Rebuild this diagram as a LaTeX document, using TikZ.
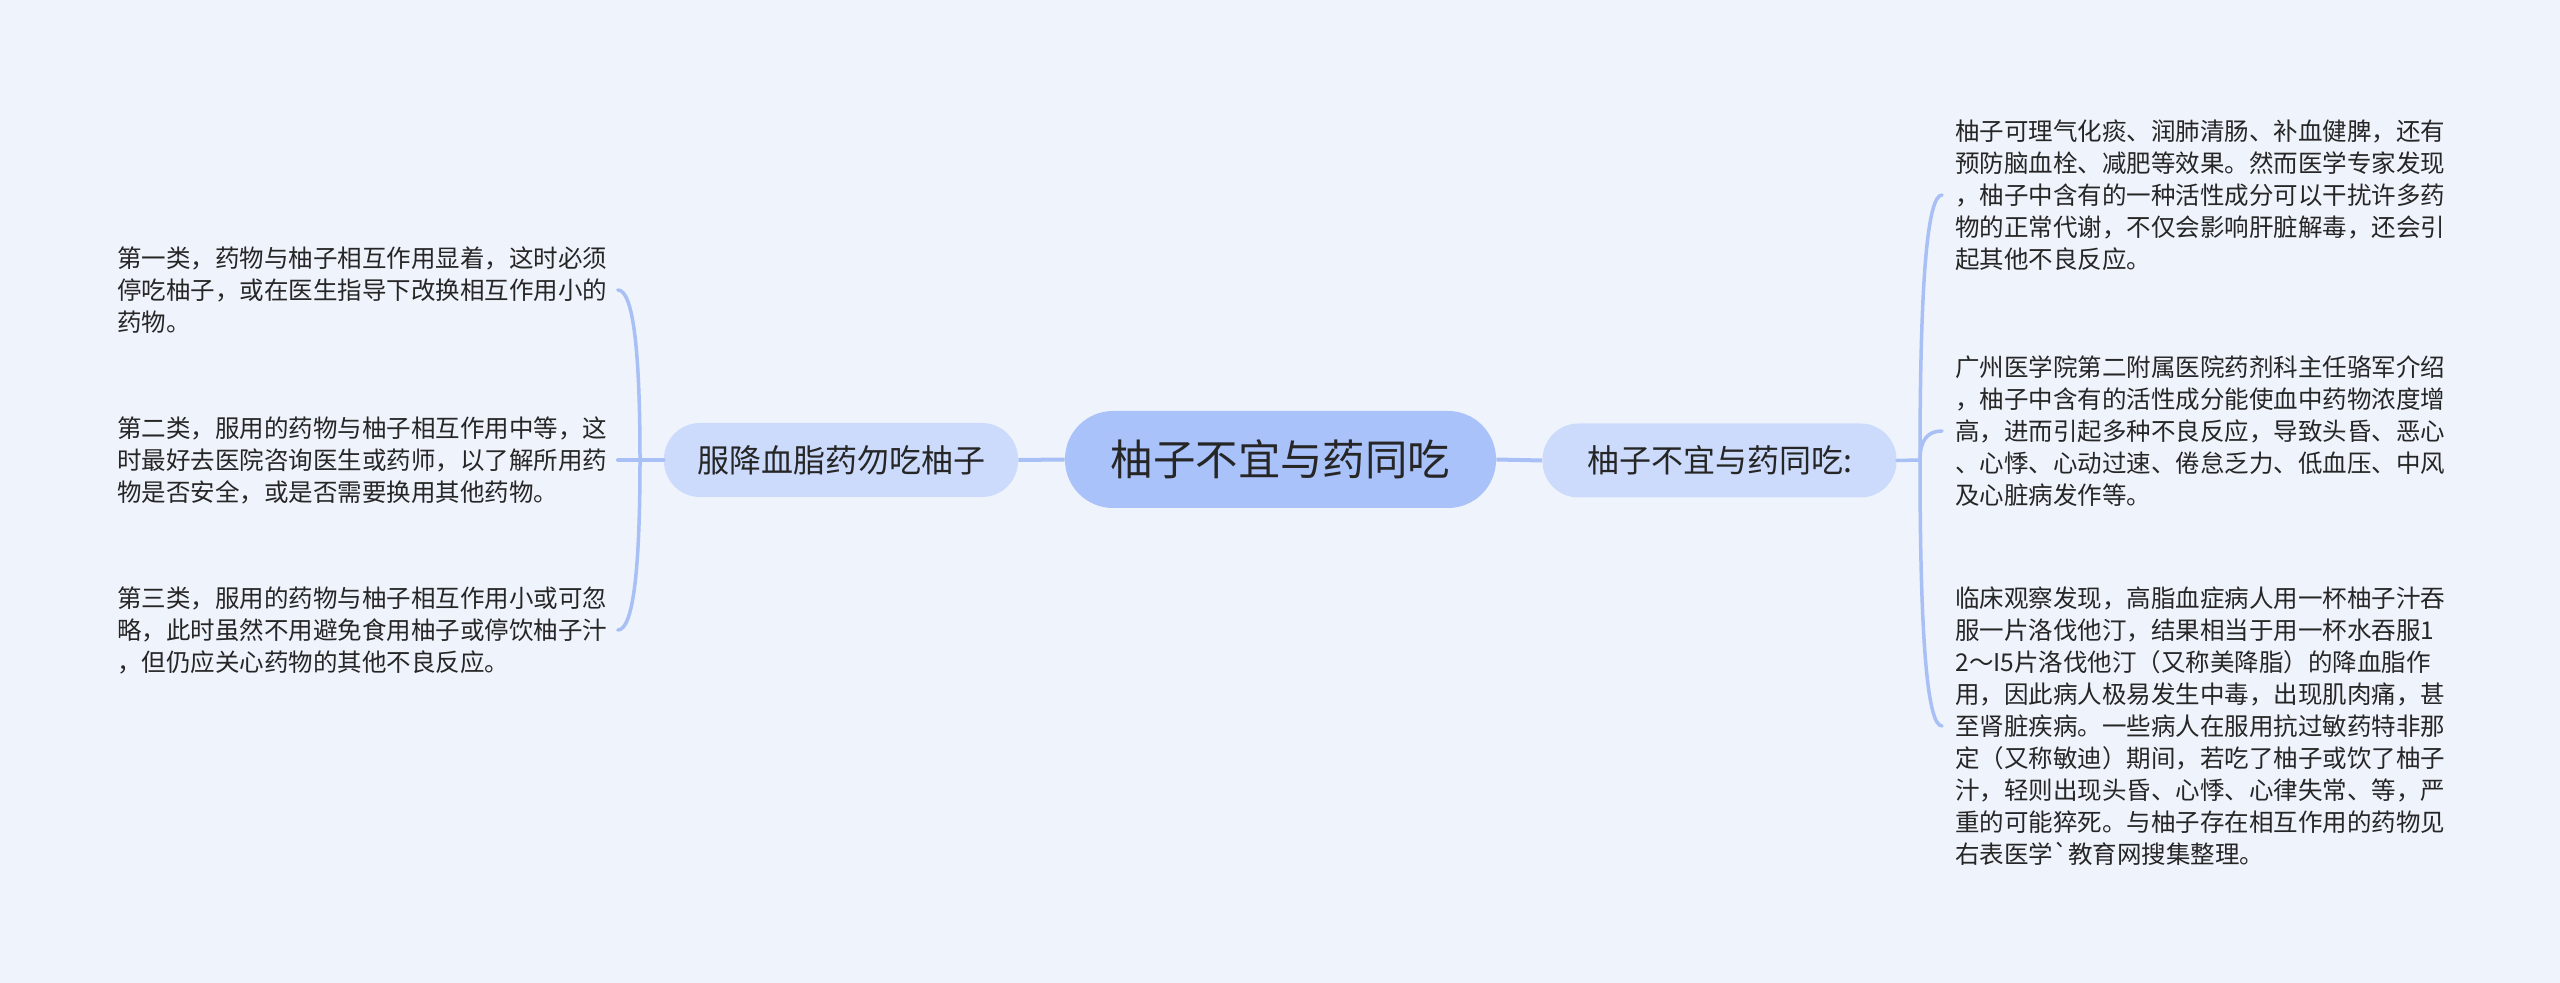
\documentclass[tikz,border=0pt]{standalone}
\usepackage{fontspec}
\usetikzlibrary{calc}
\newfontfamily\cjk{Noto Sans CJK SC}
\definecolor{bgcol}{HTML}{EFF3FC}
\definecolor{rootfill}{HTML}{AAC2FA}
\definecolor{topicfill}{HTML}{CCDBFC}
\definecolor{linkcol}{HTML}{A8C0F5}
\definecolor{txtcol}{HTML}{262626}
\begin{document}
\begin{tikzpicture}[x=0.5pt,y=-0.5pt,
    root/.style={fill=rootfill,rounded corners=24pt,minimum width=215.5pt,minimum height=48.5pt,inner sep=0pt,text=txtcol,font=\cjk\fontsize{21.2pt}{24pt}\selectfont},
    topic/.style={fill=topicfill,rounded corners=18pt,minimum width=177pt,minimum height=37pt,inner sep=0pt,text=txtcol,font=\cjk\fontsize{16pt}{18pt}\selectfont},
    leaf/.style={align=left,inner ysep=0pt,text=txtcol,font=\cjk\fontsize{12.25pt}{16pt}\selectfont},
    link/.style={draw=linkcol,line width=2pt},
    branch/.style={draw=linkcol,line width=1.75pt,line cap=round}]
    \fill[bgcol] (0,0) rectangle (2560,983);
    \node[root] (root) at (1280.5,459.5) {柚子不宜与药同吃};
    \node[topic] (lefttopic) at (841,460) {服降血脂药勿吃柚子};
    \node[topic] (righttopic) at (1719.5,460.5) {柚子不宜与药同吃:};
    \coordinate (lhub) at (640,460);
    \coordinate (rhub) at (1920,460);
    \begin{scope}[leaf,inner xsep=5pt]
      \node[anchor=west] (l1) at (107,290) {第一类，药物与柚子相互作用显着，这时必须\\停吃柚子，或在医生指导下改换相互作用小的\\药物。};
      \node[anchor=west] (l2) at (107,460) {第二类，服用的药物与柚子相互作用中等，这\\时最好去医院咨询医生或药师，以了解所用药\\物是否安全，或是否需要换用其他药物。};
      \node[anchor=west] (l3) at (107,630) {第三类，服用的药物与柚子相互作用小或可忽\\略，此时虽然不用避免食用柚子或停饮柚子汁\\，但仍应关心药物的其他不良反应。};
    \end{scope}
    \begin{scope}[leaf,inner xsep=6.5pt]
      \node[anchor=west] (r1) at (1942,195) {柚子可理气化痰、润肺清肠、补血健脾，还有\\预防脑血栓、减肥等效果。然而医学专家发现\\，柚子中含有的一种活性成分可以干扰许多药\\物的正常代谢，不仅会影响肝脏解毒，还会引\\起其他不良反应。};
      \node[anchor=west] (r2) at (1942,431) {广州医学院第二附属医院药剂科主任骆军介绍\\，柚子中含有的活性成分能使血中药物浓度增\\高，进而引起多种不良反应，导致头昏、恶心\\、心悸、心动过速、倦怠乏力、低血压、中风\\及心脏病发作等。};
      \node[anchor=west] (r3) at (1942,726) {临床观察发现，高脂血症病人用一杯柚子汁吞\\服一片洛伐他汀，结果相当于用一杯水吞服1\\2～I5片洛伐他汀（又称美降脂）的降血脂作\\用，因此病人极易发生中毒，出现肌肉痛，甚\\至肾脏疾病。一些病人在服用抗过敏药特非那\\定（又称敏迪）期间，若吃了柚子或饮了柚子\\汁，轻则出现头昏、心悸、心律失常、等，严\\重的可能猝死。与柚子存在相互作用的药物见\\右表医学\textasciigrave 教育网搜集整理。};
    \end{scope}
    \draw[link] (root.west) -- (lefttopic.east);
    \draw[link] (root.east) -- (righttopic.west);
    \draw[branch] (lefttopic.west) -- (l2.east);
    \foreach \n in {l1,l3}
      \draw[branch] (lhub) .. controls ($(lhub)!.67!(lhub|-\n.east)$) and ($(\n.east)!.67!(lhub|-\n.east)$) .. (\n.east);
    \draw[branch] (righttopic.east) -- (rhub);
    \foreach \n in {r1,r2,r3}
      \draw[branch] (rhub) .. controls ($(rhub)!.67!(rhub|-\n.west)$) and ($(\n.west)!.67!(rhub|-\n.west)$) .. (\n.west);
\end{tikzpicture}
\end{document}
